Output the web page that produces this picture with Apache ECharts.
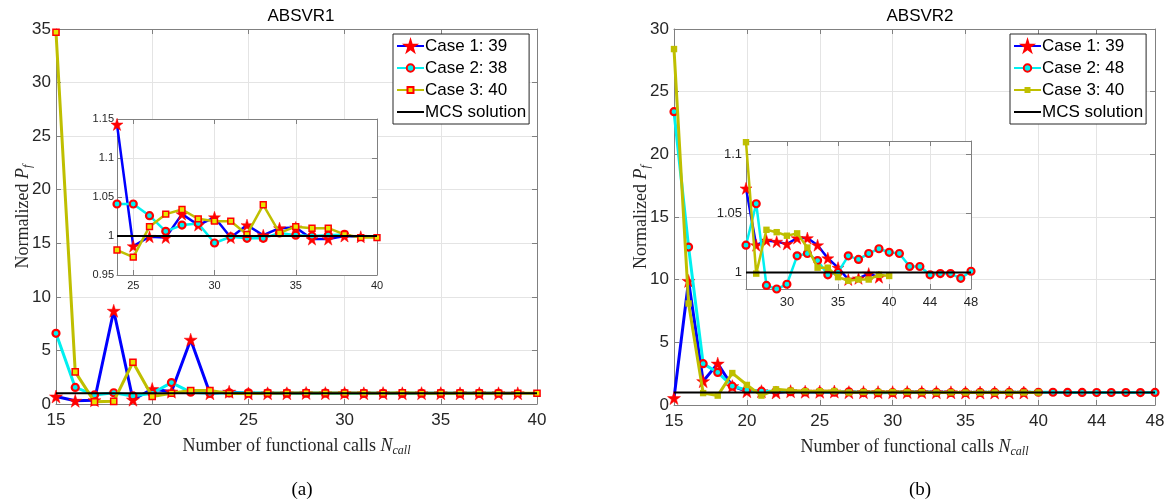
<!DOCTYPE html>
<html>
<head>
<meta charset="utf-8">
<script src="https://cdn.jsdelivr.net/npm/echarts@6/dist/echarts.min.js"></script>
<style>
  html, body { margin: 0; padding: 0; background: #ffffff; }
  #chart { width: 1171px; height: 501px; }
</style>
</head>
<body>
<div id="chart"></div>
<script>
// ---------- ABSVR1 : normalized Pf against number of functional calls ----------
const callsA = [15,16,17,18,19,20,21,22,23,24,25,26,27,28,29,30,31,32,33,34,35,36,37,38,39,40];
const case1A = [0.7,0.3,0.35,8.7,0.4,1.4,1.15,6.0,1.0,1.143,0.987,0.999,0.998,1.028,1.014,1.024,0.998,1.014,1.001,1.010,1.011,0.996,0.996,1.0,0.999];
const case2A = [6.6,1.55,0.85,1.05,0.75,1.0,2.0,1.1,1.0,1.041,1.041,1.026,1.006,1.014,1.016,0.991,0.999,0.997,0.997,1.004,1.001,1.0,1.001,1.002];
const case3A = [34.7,3.0,0.2,0.25,3.9,0.7,1.0,1.25,1.25,0.982,0.973,1.012,1.028,1.034,1.022,1.019,1.019,1.002,1.040,1.004,1.012,1.010,1.010,1.002,0.998,0.998];

// ---------- ABSVR2 ----------
const callsB = [15,16,17,18,19,20,21,22,23,24,25,26,27,28,29,30,31,32,33,34,35,36,37,38,39,40,41,42,43,44,45,46,47,48];
const case1B = [0.55,9.9,1.9,3.3,1.5,1.1,1.1,1.0,1.1,1.06,1.06,1.071,1.023,1.027,1.026,1.024,1.029,1.029,1.023,1.012,1.004,0.994,0.995,0.999,0.996];
const case2B = [23.4,12.6,3.3,2.6,1.5,1.2,1.1,1.1,1.06,1.05,1.04,1.023,1.058,0.989,0.986,0.99,1.014,1.016,1.010,0.998,1.0,1.014,1.011,1.016,1.020,1.017,1.016,1.005,1.005,0.998,0.999,0.999,0.995,1.001];
const case3B = [28.4,8.1,0.95,0.75,2.55,1.6,0.75,1.25,1.15,1.1,1.1,1.11,0.999,1.036,1.034,1.031,1.033,1.021,1.004,1.004,0.996,0.993,0.994,0.994,0.998,0.997];

// reference level of the Monte Carlo solution
const mcsLevel = 1;

// legend labels
const legendA = ['Case 1: 39', 'Case 2: 38', 'Case 3: 40', 'MCS solution'];
const legendB = ['Case 1: 39', 'Case 2: 48', 'Case 3: 40', 'MCS solution'];

// tick values
const mainXTicksA = [15,20,25,30,35,40];
const mainYTicksA = [0,5,10,15,20,25,30,35];
const insetXTicksA = [25,30,35,40];
const insetYTicksA = [0.95,1,1.05,1.1,1.15];
const mainXTicksB = [15,20,25,30,35,40,44,48];
const mainYTicksB = [0,5,10,15,20,25,30];
const insetXTicksB = [30,35,40,44,48];
const insetYTicksB = [1,1.05,1.1];

const SANS = "'Liberation Sans', Arial, sans-serif";
const SERIF = "'Liberation Serif', 'Times New Roman', serif";
const AXIS_GRAY = '#808080';
const GRID_GRAY = '#e4e4e4';
const TXT = '#262626';
// marker shapes; the empty moveTo corners keep circle and square smaller than the star at equal size
const STAR = 'path://M10,0 L12.245,6.91 L19.51,6.91 L13.633,11.18 L15.878,18.09 L10,13.82 L4.122,18.09 L6.367,11.18 L0.49,6.91 L7.755,6.91 Z';
const CIRCLE = 'path://M0,0 M30,30 M25,15 A10,10 0 1 1 5,15 A10,10 0 1 1 25,15 Z';
const SQUARE = 'path://M0,0 M30,30 M7,7 L23,7 L23,23 L7,23 Z';

function pairs(xs, ys, from) {
  const out = [];
  ys.forEach((v, i) => { if (from === undefined || xs[i] >= from) out.push([xs[i], v]); });
  return out;
}

const subName = (main, ital, sub) => ({
  text: '{n|' + main + '}{i|' + ital + '}{s|' + sub + '}',
  style: {
    rich: {
      n: { fontFamily: SERIF, fontSize: 18, color: TXT },
      i: { fontFamily: SERIF, fontSize: 18, fontStyle: 'italic', color: TXT },
      s: { fontFamily: SERIF, fontSize: 12, fontStyle: 'italic', color: TXT, padding: [9, 0, 0, 0] }
    }
  }
});

// bottom + top x axes (top one only carries ticks / border)
function xAxes(grid, min, max, ticks, fs, margin, z, named) {
  const base = {
    type: 'value', gridIndex: grid, min: min, max: max, z: z,
    axisLine: { show: true, onZero: false, lineStyle: { color: AXIS_GRAY, width: 1 } },
    axisTick: { show: true, inside: true, length: 5, customValues: ticks, lineStyle: { color: AXIS_GRAY } }
  };
  const bottom = Object.assign({}, base, {
    position: 'bottom',
    axisLabel: { customValues: ticks, fontSize: fs, color: TXT, fontFamily: SANS, margin: margin },
    splitLine: { show: true, lineStyle: { color: GRID_GRAY, width: 1 } }
  });
  if (named) {
    const nm = subName('Number of functional calls ', 'N', 'call');
    bottom.name = nm.text;
    bottom.nameLocation = 'middle';
    bottom.nameGap = 32;
    bottom.nameMoveOverlap = false;
    bottom.nameTextStyle = nm.style;
  }
  const top = Object.assign({}, base, {
    position: 'top', axisLabel: { show: false }, splitLine: { show: false }
  });
  return [bottom, top];
}

function yAxes(grid, min, max, ticks, fs, margin, z, named) {
  const base = {
    type: 'value', gridIndex: grid, min: min, max: max, z: z,
    axisLine: { show: true, onZero: false, lineStyle: { color: AXIS_GRAY, width: 1 } },
    axisTick: { show: true, inside: true, length: 5, customValues: ticks, lineStyle: { color: AXIS_GRAY } }
  };
  const left = Object.assign({}, base, {
    position: 'left',
    axisLabel: { customValues: ticks, fontSize: fs, color: TXT, fontFamily: SANS, margin: margin },
    splitLine: { show: true, lineStyle: { color: GRID_GRAY, width: 1 } }
  });
  if (named) {
    const nm = subName('Normalized ', 'P', 'f');
    left.name = nm.text;
    left.nameLocation = 'middle';
    left.nameGap = 22;
    left.nameMoveOverlap = false;
    left.nameTextStyle = nm.style;
  }
  const right = Object.assign({}, base, {
    position: 'right', axisLabel: { show: false }, splitLine: { show: false }
  });
  return [left, right];
}

// line series styles
function case1(name, data, ax, lw, ss, z) {
  return { name: name, type: 'line', xAxisIndex: ax, yAxisIndex: ax, data: data, z: z,
    symbol: STAR, symbolSize: ss, showSymbol: true, clip: false,
    lineStyle: { color: '#0000ff', width: lw },
    itemStyle: { color: '#ff0000', borderColor: '#ff0000', borderWidth: 0.5 } };
}
function case2(name, data, ax, lw, ss, z) {
  return { name: name, type: 'line', xAxisIndex: ax, yAxisIndex: ax, data: data, z: z,
    symbol: CIRCLE, symbolSize: ss, showSymbol: true, clip: false,
    lineStyle: { color: '#00f0f0', width: lw },
    itemStyle: { color: '#00f0f0', borderColor: '#ff0000', borderWidth: 2.2 } };
}
function case3(name, data, ax, lw, ss, z, filled) {
  return { name: name, type: 'line', xAxisIndex: ax, yAxisIndex: ax, data: data, z: z,
    symbol: SQUARE, symbolSize: ss, showSymbol: true, clip: false,
    lineStyle: { color: '#bfbf00', width: lw },
    itemStyle: filled ? { color: '#bfbf00', borderWidth: 0 }
                      : { color: '#e6e600', borderColor: '#ff0000', borderWidth: 1.5 } };
}
function mcs(name, x0, x1, ax, lw, z) {
  return { name: name, type: 'line', xAxisIndex: ax, yAxisIndex: ax,
    data: [[x0, mcsLevel], [x1, mcsLevel]], z: z, symbol: 'none', showSymbol: false,
    lineStyle: { color: '#000000', width: lw }, itemStyle: { color: 'rgba(0,0,0,0)' } };
}

function legend(left, names, prefix) {
  return {
    left: left, top: 34, orient: 'vertical', z: 20,
    data: names.map(n => prefix + n),
    formatter: n => n.slice(prefix.length),
    itemWidth: 27, itemHeight: 14, itemGap: 4,
    padding: [3, 3, 3, 3],
    backgroundColor: '#ffffff', borderColor: '#262626', borderWidth: 1,
    textStyle: { fontFamily: SANS, fontSize: 17, color: '#000000', lineHeight: 18, padding: [0, 0, 0, -4] },
    selectedMode: false
  };
}

const xs = [].concat(
  xAxes(0, 15, 40, mainXTicksA, 17, 8, 0, true),
  xAxes(1, 24, 40, insetXTicksA, 11, 5, 2, false),
  xAxes(2, 15, 48, mainXTicksB, 17, 8, 0, true),
  xAxes(3, 26, 48, insetXTicksB, 13, 7, 2, false)
);
const ys = [].concat(
  yAxes(0, 0, 35, mainYTicksA, 17, 5, 0, true),
  yAxes(1, 0.95, 1.15, insetYTicksA, 11, 3, 2, false),
  yAxes(2, 0, 30, mainYTicksB, 17, 5, 0, true),
  yAxes(3, 0.986, 1.111, insetYTicksB, 13, 4, 2, false)
);

const option = {
  animation: false,
  backgroundColor: '#ffffff',
  title: [
    { text: 'ABSVR1', left: 296, top: 3, textAlign: 'center',
      textStyle: { fontFamily: SANS, fontSize: 17, fontWeight: 'normal', color: '#000' } },
    { text: 'ABSVR2', left: 915, top: 3, textAlign: 'center',
      textStyle: { fontFamily: SANS, fontSize: 17, fontWeight: 'normal', color: '#000' } },
    { text: '(a)', left: 297, top: 476, textAlign: 'center',
      textStyle: { fontFamily: SERIF, fontSize: 19, fontWeight: 'normal', color: '#000' } },
    { text: '(b)', left: 915, top: 476, textAlign: 'center',
      textStyle: { fontFamily: SERIF, fontSize: 19, fontWeight: 'normal', color: '#000' } }
  ],
  legend: [legend(393, legendA, 'a|'), legend(1010, legendB, 'b|')],
  grid: [
    { left: 56, top: 29, width: 481, height: 375, show: false, outerBoundsMode: 'none' },
    { left: 117, top: 119, width: 260, height: 156, show: true, backgroundColor: '#ffffff', borderWidth: 0, z: 1, outerBoundsMode: 'none' },
    { left: 674, top: 29, width: 481, height: 376, show: false, outerBoundsMode: 'none' },
    { left: 746, top: 141, width: 225, height: 148, show: true, backgroundColor: '#ffffff', borderWidth: 0, z: 1, outerBoundsMode: 'none' }
  ],
  xAxis: xs,
  yAxis: ys,
  series: [
    // ABSVR1 main
    case1('a|' + legendA[0], pairs(callsA, case1A), 0, 3, 13, 2),
    case2('a|' + legendA[1], pairs(callsA, case2A), 0, 3, 10.5, 3),
    case3('a|' + legendA[2], pairs(callsA, case3A), 0, 3, 11.5, 4, false),
    mcs('a|' + legendA[3], 15, 40, 0, 2, 5),
    // ABSVR1 inset
    case1('inset a1', pairs(callsA, case1A, 24), 2, 2.5, 12, 6),
    case2('inset a2', pairs(callsA, case2A, 24), 2, 2.5, 10.5, 7),
    case3('inset a3', pairs(callsA, case3A, 24), 2, 2.5, 11, 8, false),
    mcs('inset a4', 24, 40, 2, 2, 9),
    // ABSVR2 main
    case1('b|' + legendB[0], pairs(callsB, case1B), 4, 3, 13, 2),
    case2('b|' + legendB[1], pairs(callsB, case2B), 4, 3, 10.5, 3),
    case3('b|' + legendB[2], pairs(callsB, case3B), 4, 3, 12, 4, true),
    mcs('b|' + legendB[3], 15, 48, 4, 2, 5),
    // ABSVR2 inset
    case1('inset b1', pairs(callsB, case1B, 26), 6, 2.5, 12, 6),
    case2('inset b2', pairs(callsB, case2B, 26), 6, 2.5, 10.5, 7),
    case3('inset b3', pairs(callsB, case3B, 26), 6, 2.5, 12, 8, true),
    mcs('inset b4', 26, 48, 6, 2, 9)
  ]
};

const chart = echarts.init(document.getElementById('chart'), null, { renderer: 'canvas' });
chart.setOption(option);
</script>
</body>
</html>
